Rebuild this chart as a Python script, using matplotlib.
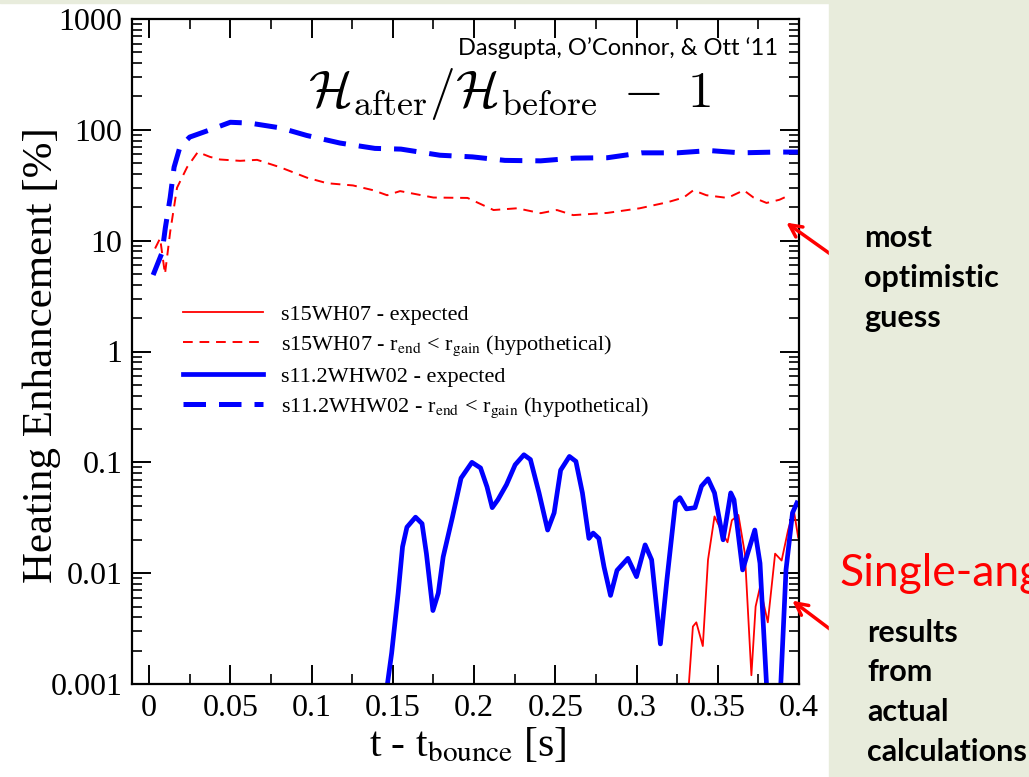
import matplotlib.pyplot as plt
from matplotlib.patches import Rectangle
from matplotlib.ticker import MultipleLocator, NullFormatter

plt.rcParams['font.family'] = ['Liberation Serif', 'DejaVu Serif']
plt.rcParams['mathtext.fontset'] = 'stix'

# s15WH07 - expected (thin red)
t_red = [0.332, 0.3347, 0.3368, 0.3408, 0.344, 0.348, 0.352, 0.356, 0.3587, 0.3627,
         0.3667, 0.3707, 0.3733, 0.376, 0.3808, 0.3853, 0.3893, 0.3933, 0.3968, 0.3995]
h_red = [0.0009, 0.0033, 0.0036, 0.0022, 0.0132, 0.0325, 0.0245, 0.019, 0.030, 0.0335,
         0.015, 0.0012, 0.005, 0.0075, 0.0036, 0.015, 0.013, 0.0245, 0.037, 0.021]

# s15WH07 - r_end < r_gain (red dashed)
t_red_dash = [0.0037, 0.0068, 0.0098, 0.013, 0.0172, 0.0234, 0.030, 0.0375, 0.0437, 0.056,
              0.0665, 0.0806, 0.0972, 0.1095, 0.1255, 0.138, 0.1465, 0.1545, 0.175, 0.196,
              0.212, 0.2265, 0.241, 0.251, 0.261, 0.282, 0.302, 0.319, 0.329, 0.335,
              0.343, 0.356, 0.366, 0.372, 0.380, 0.388, 0.394]
h_red_dash = [8.5, 10.5, 5.0, 12, 30, 46, 63, 57, 54, 52.5,
              53.6, 46, 37, 33, 31.5, 28.5, 25.7, 28, 24.5, 24.3,
              18.9, 19.6, 17.7, 18.9, 17, 17.8, 19.6, 22.2, 24.5, 28.5,
              25.7, 24.3, 28.5, 24.5, 21.9, 23.4, 25.7]

# s11.2WHW02 - expected (thick blue)
t_blue = [0.1467, 0.1493, 0.1533, 0.156, 0.1587, 0.164, 0.168, 0.1707, 0.1747, 0.178,
          0.181, 0.1867, 0.192, 0.1987, 0.204, 0.208, 0.2112, 0.2147, 0.22, 0.2253,
          0.2307, 0.2347, 0.24, 0.2453, 0.2493, 0.2533, 0.2587, 0.2627, 0.2667, 0.2707,
          0.2733, 0.2768, 0.28, 0.284, 0.288, 0.2947, 0.30, 0.3053, 0.3093, 0.3147,
          0.3187, 0.324, 0.3267, 0.3307, 0.336, 0.34, 0.344, 0.348, 0.3533, 0.358,
          0.36, 0.3653, 0.3728, 0.376, 0.380, 0.383, 0.386, 0.3888, 0.392, 0.396, 0.3987]
h_blue = [0.001, 0.0019, 0.0066, 0.0173, 0.026, 0.032, 0.028, 0.015, 0.0046, 0.0066,
          0.014, 0.032, 0.072, 0.1, 0.089, 0.06, 0.039, 0.046, 0.063, 0.095,
          0.117, 0.106, 0.053, 0.0245, 0.035, 0.085, 0.113, 0.102, 0.053, 0.0206,
          0.023, 0.0206, 0.0114, 0.0063, 0.0106, 0.0136, 0.0093, 0.018, 0.0132, 0.0023,
          0.0087, 0.044, 0.048, 0.038, 0.039, 0.061, 0.071, 0.053, 0.02, 0.053,
          0.046, 0.0107, 0.0245, 0.0123, 0.001, 0.0002, 0.0002, 0.001, 0.0107, 0.035, 0.043]

# s11.2WHW02 - r_end < r_gain (blue dashed)
t_blue_dash = [0.0025, 0.008, 0.010, 0.013, 0.0154, 0.019, 0.025, 0.0375, 0.050, 0.062,
               0.081, 0.097, 0.1175, 0.139, 0.155, 0.179, 0.199, 0.219, 0.241, 0.262,
               0.282, 0.303, 0.325, 0.345, 0.364, 0.386, 0.400]
h_blue_dash = [4.9, 7.8, 13, 24.5, 46, 70, 86, 100, 117, 115,
               104, 89, 76, 68, 67, 59, 57, 53, 52.5, 55.6,
               56, 62, 62, 65, 62, 63, 63]

x_ticks = [0, 0.05, 0.1, 0.15, 0.2, 0.25, 0.3, 0.35, 0.4]
x_labels = ['0', '0.05', '0.1', '0.15', '0.2', '0.25', '0.3', '0.35', '0.4']
y_ticks = [1e-3, 1e-2, 1e-1, 1, 10, 100, 1000]
y_labels = ['0.001', '0.01', '0.1', '1', '10', '100', '1000']

labels = ['s15WH07 - expected',
          r's15WH07 - r$_{\rm end}$ < r$_{\rm gain}$ (hypothetical)',
          's11.2WHW02 - expected',
          r's11.2WHW02 - r$_{\rm end}$ < r$_{\rm gain}$ (hypothetical)']

W, H = 1029, 777
fig = plt.figure(figsize=(W / 100, H / 100), dpi=100)
fig.patches.append(Rectangle((829 / W, 0), 1 - 829 / W, 1, transform=fig.transFigure,
                             color='#e8ecdc', zorder=0))
fig.patches.append(Rectangle((0, 1 - 3 / H), 1, 3 / H, transform=fig.transFigure,
                             color='#e8ecdc', zorder=0))

ax = fig.add_axes([132 / W, 93 / H, 667 / W, 665 / H])
ax.set_yscale('log')

l1, = ax.plot(t_red, h_red, color='#ff0000', lw=1.3)
l2, = ax.plot(t_red_dash, h_red_dash, color='#ff0000', lw=1.4, dashes=(5, 3.5))
l3, = ax.plot(t_blue, h_blue, color='#0000ff', lw=3.4)
l4, = ax.plot(t_blue_dash, h_blue_dash, color='#0000ff', lw=3.6, dashes=(4.5, 2.6))

ax.set_xlim(-0.0105, 0.4)
ax.set_ylim(1e-3, 1e3)
ax.set_xticks(x_ticks, x_labels)
ax.xaxis.set_minor_locator(MultipleLocator(0.025))
ax.set_yticks(y_ticks, y_labels)
ax.yaxis.set_minor_formatter(NullFormatter())
ax.tick_params(which='both', direction='in', top=True, right=True, labelsize=23)
ax.tick_params(which='major', length=14, width=1.4, pad=7)
ax.tick_params(which='minor', length=7, width=1.2)
for s in ax.spines.values():
    s.set_linewidth(1.6)

ax.set_ylabel('Heating Enhancement [%]', fontsize=31)
ax.yaxis.set_label_coords(-0.106, 0.495)
ax.set_xlabel(r't - t$_{\rm bounce}$ [s]', fontsize=30)
ax.xaxis.set_label_coords(0.504, -0.063)

ax.legend([l1, l2, l3, l4], labels, loc='upper left', bbox_to_anchor=(0.0765, 0.571),
          frameon=False, fontsize=16, handlelength=3.6, labelspacing=0.38,
          handletextpad=0.8, borderaxespad=0, borderpad=0)

fig.text(510 / W, 1 - 94 / H, r'$\mathcal{H}_{\rm after}/\mathcal{H}_{\rm before}\ -\ 1$',
         fontsize=37, math_fontfamily='cm', ha='center', va='center')
fig.text(778 / W, 1 - 48 / H, "Dasgupta, O\u2019Connor, & Ott \u201811", family='Lato',
         fontsize=17, ha='right', va='center')

# side notes
for txt, y in [('most', 238), ('optimistic', 278), ('guess', 318)]:
    fig.text(864 / W, 1 - y / H, txt, family='Lato', fontweight='bold', fontsize=22,
             ha='left', va='center')
for txt, y in [('results', 633), ('from', 672), ('actual', 712), ('calculations', 752)]:
    fig.text(867 / W, 1 - y / H, txt, family='Lato', fontweight='bold', fontsize=22,
             ha='left', va='center')
fig.text(839 / W, 1 - 574 / H, 'Single-angle', family='Lato', fontsize=32,
         color='#ff0000', ha='left', va='center')

ax.annotate('', xy=(784, H - 221), xycoords='figure pixels', xytext=(850, H - 268),
            textcoords='figure pixels', annotation_clip=False,
            arrowprops=dict(arrowstyle='->', color='#ff0000', lw=2.5, mutation_scale=22))
ax.annotate('', xy=(790, H - 599), xycoords='figure pixels', xytext=(855, H - 648),
            textcoords='figure pixels', annotation_clip=False,
            arrowprops=dict(arrowstyle='->', color='#ff0000', lw=2.5, mutation_scale=22))

fig.savefig('out.png', dpi=100)
